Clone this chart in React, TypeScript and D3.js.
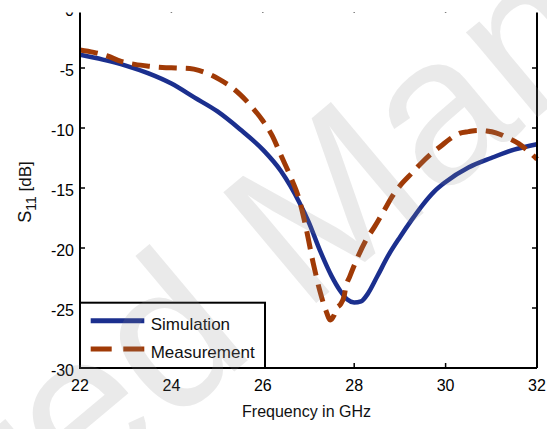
import React from "react";
import * as d3 from "d3";

const simFreq = [22.0, 22.5, 23.0, 23.5, 24.0, 24.5, 25.0, 25.5, 26.0, 26.4, 26.8, 27.0, 27.25, 27.5, 27.7, 27.85, 28.0, 28.15, 28.3, 28.5, 28.75, 29.0, 29.25, 29.5, 29.75, 30.0, 30.5, 31.0, 31.5, 32.0];
const simS11 = [-3.9, -4.3, -4.8, -5.45, -6.3, -7.45, -8.6, -10.1, -11.8, -13.6, -16.2, -17.8, -20.2, -22.3, -23.6, -24.3, -24.55, -24.45, -23.8, -22.4, -20.6, -19.1, -17.7, -16.4, -15.3, -14.5, -13.3, -12.5, -11.8, -11.35];

const measFreq = [22.0, 22.3, 22.6, 22.9, 23.2, 23.5, 23.8, 24.1, 24.4, 24.6, 24.85, 25.05, 25.3, 25.5, 25.75, 26.0, 26.2, 26.4, 26.6, 26.8, 26.95, 27.1, 27.25, 27.38, 27.48, 27.56, 27.62, 27.7, 27.78, 27.82, 27.9, 28.05, 28.25, 28.45, 28.65, 28.85, 29.05, 29.25, 29.45, 29.7, 29.9, 30.1, 30.3, 30.5, 30.7, 30.9, 31.1, 31.35, 31.6, 31.8, 32.0];
const measS11 = [-3.5, -3.7, -4.0, -4.45, -4.7, -4.85, -4.95, -5.0, -5.05, -5.2, -5.55, -5.95, -6.55, -7.2, -8.2, -9.4, -10.6, -12.3, -14.0, -16.0, -18.4, -21.2, -23.6, -25.2, -26.0, -25.6, -25.0, -24.7, -24.0, -23.2, -22.4, -21.0, -19.4, -18.2, -16.9, -15.6, -14.6, -13.8, -13.0, -12.1, -11.5, -10.9, -10.45, -10.3, -10.2, -10.25, -10.4, -10.8, -11.3, -11.9, -12.6];

const xTicks = [22, 24, 26, 28, 30, 32];
const yTicks = [0, -5, -10, -15, -20, -25, -30];
const seriesNames = ["Simulation", "Measurement"];

const W = 547;
const H = 429;
const BLUE = "#1b2f8e";
const BROWN = "#a03a06";
const FONT = "'Liberation Sans', Arial, Helvetica, sans-serif";

export default function App() {
  const x = d3.scaleLinear().domain([22, 32]).range([80, 537]);
  const y = d3.scaleLinear().domain([0, -30]).range([8, 368]);

  const line = d3
    .line<[number, number]>()
    .x((d) => x(d[0]))
    .y((d) => y(d[1]))
    .curve(d3.curveMonotoneX);

  const simPts: [number, number][] = simFreq.map((f, i) => [f, simS11[i]]);
  const measPts: [number, number][] = measFreq.map((f, i) => [f, measS11[i]]);

  const left = x(22);
  const right = x(32);
  const top = y(0);
  const bottom = y(-30);
  const tickLen = 5;

  const legX0 = left;
  const legX1 = 265;
  const legY0 = 302.7;
  const legY1 = bottom;
  const legRows = [320.7, 349];

  return (
    <svg
      width={W}
      height={H}
      viewBox={`0 0 ${W} ${H}`}
      style={{ position: "absolute", left: 0, top: 0, background: "#fff" }}
      fontFamily={FONT}
    >
      <rect x={0} y={0} width={W} height={H} fill="#fff" />
      <defs>
        <clipPath id="plotClip">
          <rect x={left} y={top} width={right - left + 6} height={bottom - top} />
        </clipPath>
      </defs>

      {/* data lines */}
      <g clipPath="url(#plotClip)">
        <path d={line(simPts) || ""} fill="none" stroke={BLUE} strokeWidth={4.5} strokeLinejoin="round" />
        <path
          d={line(measPts) || ""}
          fill="none"
          stroke={BROWN}
          strokeWidth={5}
          strokeDasharray="18 9"
          strokeLinejoin="round"
        />
      </g>

      {/* axes box */}
      <line x1={left} x2={left} y1={top} y2={bottom} stroke="#000" strokeWidth={2} />
      <line x1={right} x2={right} y1={top} y2={bottom} stroke="#000" strokeWidth={2} />
      <line x1={left} x2={right} y1={bottom} y2={bottom} stroke="#000" strokeWidth={2} />
      <line x1={left} x2={right} y1={top} y2={top} stroke="#000" strokeWidth={2} />

      {/* x ticks */}
      {xTicks.map((t) => (
        <g key={"x" + t}>
          <line x1={x(t)} x2={x(t)} y1={bottom} y2={bottom - tickLen} stroke="#000" strokeWidth={1.5} />
          <line x1={x(t)} x2={x(t)} y1={top} y2={top + tickLen} stroke="#000" strokeWidth={1.5} />
          <text x={x(t)} y={391} fontSize={16} textAnchor="middle" fill="#000">
            {t}
          </text>
        </g>
      ))}

      {/* y ticks */}
      {yTicks.map((t) => (
        <g key={"y" + t}>
          <line x1={left} x2={left + tickLen} y1={y(t)} y2={y(t)} stroke="#000" strokeWidth={1.5} />
          <line x1={right} x2={right - tickLen} y1={y(t)} y2={y(t)} stroke="#000" strokeWidth={1.5} />
          <text x={74} y={y(t) + 8} fontSize={16} textAnchor="end" fill="#000">
            {t}
          </text>
        </g>
      ))}

      {/* legend */}
      <rect x={legX0} y={legY0} width={legX1 - legX0} height={legY1 - legY0} fill="#fff" stroke="#000" strokeWidth={2} />
      <line x1={90.7} x2={144.3} y1={legRows[0]} y2={legRows[0]} stroke={BLUE} strokeWidth={5} />
      <line x1={90.7} x2={144.3} y1={legRows[1]} y2={legRows[1]} stroke={BROWN} strokeWidth={5} strokeDasharray="21 11.6" />
      {seriesNames.map((s, i) => (
        <text key={s} x={150.7} y={legRows[i] + 9} fontSize={17} fill="#111">
          {s}
        </text>
      ))}

      {/* axis labels */}
      <text x={306.5} y={417} fontSize={16} textAnchor="middle" fill="#111">
        Frequency in GHz
      </text>
      <text transform="translate(31,192) rotate(-90)" textAnchor="middle" fill="#111" fontSize={18}>
        <tspan>S</tspan>
        <tspan fontSize={14} dy={5}>11</tspan>
        <tspan dy={-5} fontSize={17}>{" [dB]"}</tspan>
      </text>

      {/* top crop mask */}
      <rect x={0} y={0} width={W} height={12.5} fill="#fff" />

      {/* watermark */}
      <text
        transform="translate(303,314) rotate(-40)"
        x={-934}
        fontSize={210}
        fill="#8c8c8c"
        fillOpacity={0.18}
        fontFamily={FONT}
      >
        Accepted Manuscript
      </text>
    </svg>
  );
}
